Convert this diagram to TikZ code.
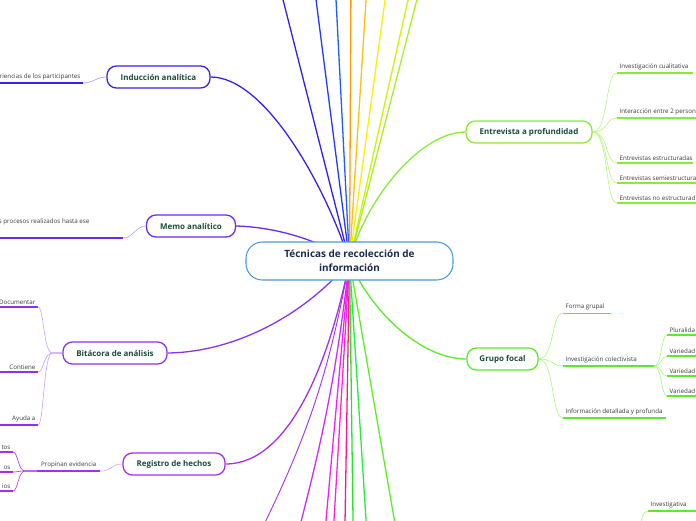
\documentclass[tikz,border=0pt]{standalone}
\usepackage{fontspec}
\setmainfont{Open Sans}
\usepackage{tikz}
\usetikzlibrary{positioning,backgrounds,calc}

\definecolor{hubline}{HTML}{4A9AD8}
\definecolor{hubtxt}{HTML}{1C2B4B}
\definecolor{nodetxt}{HTML}{1B4B3B}
\definecolor{leaftxt}{HTML}{3A3A3A}
\definecolor{indc}{HTML}{3A1FE8}
\definecolor{indl}{HTML}{A294FF}
\definecolor{memoc}{HTML}{6A2AF2}
\definecolor{memol}{HTML}{B69CFF}
\definecolor{bitc}{HTML}{8B33EC}
\definecolor{bitl}{HTML}{C79CFF}
\definecolor{regc}{HTML}{A52EF2}
\definecolor{regl}{HTML}{D49CFF}
\definecolor{entc}{HTML}{88EA3A}
\definecolor{entl}{HTML}{B6F57E}
\definecolor{gfc}{HTML}{5CEA2A}
\definecolor{gfl}{HTML}{A6F57C}
\definecolor{spA}{HTML}{2B1FF5}
\definecolor{spB}{HTML}{2238FF}
\definecolor{spC}{HTML}{1F5CFF}
\definecolor{spD}{HTML}{FF9A00}
\definecolor{spE}{HTML}{FFBE14}
\definecolor{spF}{HTML}{FFEE00}
\definecolor{spG}{HTML}{CCF500}
\definecolor{spH}{HTML}{A8F020}
\definecolor{sbA}{HTML}{A535F5}
\definecolor{sbB}{HTML}{CC2CF5}
\definecolor{sbC}{HTML}{EE22EE}
\definecolor{sbD}{HTML}{FF22D8}
\definecolor{sbE}{HTML}{FF1490}
\definecolor{sbF}{HTML}{22E622}
\definecolor{sbG}{HTML}{22EE3A}
\definecolor{sbH}{HTML}{5CF022}

\begin{document}
\begin{tikzpicture}[
  x=0.03cm, y=-0.03cm,
  hub/.style={draw=hubline, line width=0.9pt, fill=white, rounded corners=14pt, align=center,
    minimum width=6.21cm, minimum height=1.14cm, text=hubtxt,
    font=\fontsize{8.5}{12}\selectfont\bfseries},
  topic/.style={line width=1.1pt, fill=white, rounded corners=8pt, minimum height=0.66cm,
    inner xsep=5pt, text=nodetxt, font=\fontsize{6.8}{8}\selectfont\bfseries},
  leaf/.style={inner xsep=2pt, inner ysep=2.2pt, text=leaftxt,
    font=\fontsize{5.3}{6.3}\selectfont},
  spoke/.style={line width=1.1pt},
  twig/.style={line width=0.5pt},
  uline/.style={line width=1.4pt},
  thinline/.style={line width=0.8pt}
]
\useasboundingbox (0,0) rectangle (696,520);

\node[hub] (c) at (349.5,261) {Técnicas de recolección de\\información};

\node[topic, draw=indc, minimum width=3.09cm] (ind) at (158.5,77) {Inducción analítica};
\node[topic, draw=memoc, minimum width=2.67cm] (memo) at (191,226) {Memo analítico};
\node[topic, draw=bitc, minimum width=3.12cm] (bit) at (115,353) {Bitácora de análisis};
\node[topic, draw=regc, minimum width=3.06cm] (reg) at (174,464) {Registro de hechos};
\node[topic, draw=entc, minimum width=3.78cm] (ent) at (529,132) {Entrevista a profundidad};
\node[topic, draw=gfc, minimum width=2.13cm] (gf) at (502.5,359) {Grupo focal};

\node[leaf, anchor=south east] (indL) at (83,83) {riencias de los participantes};
\node[leaf, anchor=east] (memoL) at (92,222) {s procesos realizados hasta ese};
\coordinate (memoU) at (123,238);

\node[leaf, anchor=south east] (b1) at (38,307) {Documentar};
\node[leaf, anchor=south east] (b2) at (38,372) {Contiene};
\node[leaf, anchor=south east] (b3) at (38,425) {Ayuda a};

\node[leaf, anchor=south west, minimum width=1.89cm] (r1) at (37,471) {Propinan evidencia};
\node[leaf, anchor=south east] (s1) at (13,452) {tos};
\node[leaf, below=0.6cm of s1.south east, anchor=south east] (s2) {os};
\node[leaf, below=0.57cm of s2.south east, anchor=south east] (s3) {ios};

\node[leaf, anchor=south west] (e1) at (617,73) {Investigación cualitativa};
\node[leaf, anchor=south west] (e2) at (617,118) {Interacción entre 2 person};
\node[leaf, anchor=south west] (e3) at (617,163) {Entrevistas estructuradas};
\node[leaf, below=0.6cm of e3.south west, anchor=south west] (e4) {Entrevistas semiestructura};
\node[leaf, below=0.6cm of e4.south west, anchor=south west] (e5) {Entrevistas no estructurad};

\node[leaf, anchor=south west] (g1) at (563,313) {Forma grupal};
\node[leaf, anchor=south west] (g2) at (563,366) {Investigación colectivista};
\node[leaf, anchor=south west] (g3) at (563,418) {Información detallada y profunda};
\coordinate (g2end) at ($(g2.south west)+(91,0)$);
\node[leaf, anchor=south west] (p1) at (667,335) {Pluralida};
\node[leaf, below=0.63cm of p1.south west, anchor=south west] (v1) {Variedad};
\node[leaf, below=0.6cm of v1.south west, anchor=south west] (v2) {Variedad};
\node[leaf, below=0.6cm of v2.south west, anchor=south west] (v3) {Variedad};

\node[leaf, anchor=south west] (inv) at (648,511) {Investigativa};
\coordinate (invIn) at (641,532);

\coordinate (t1) at (278,-20);
\coordinate (t2) at (313.5,-20);
\coordinate (t3) at (335,-20);
\coordinate (t4) at (351,-20);
\coordinate (t5) at (367.3,-20);
\coordinate (t6) at (387.8,-20);
\coordinate (t7) at (412.5,-20);
\coordinate (t8) at (422,-20);
\coordinate (u1) at (256.4,540);
\coordinate (u2) at (296.2,540);
\coordinate (u3) at (324.2,540);
\coordinate (u4) at (332.8,540);
\coordinate (u5) at (344.7,540);
\coordinate (u6) at (353.3,540);
\coordinate (u7) at (367.3,540);
\coordinate (u8) at (397.8,540);

\begin{scope}[on background layer]
\clip (0,0) rectangle (696,520);
\draw[spoke, spA] (c.center) -- (t1);
\draw[spoke, spB] (c.center) -- (t2);
\draw[spoke, spC] (c.center) -- (t3);
\draw[spoke, spD] (c.center) -- (t4);
\draw[spoke, spE] (c.center) -- (t5);
\draw[spoke, spF] (c.center) -- (t6);
\draw[spoke, spG] (c.center) -- (t7);
\draw[spoke, spH] (c.center) -- (t8);
\draw[spoke, sbA, line width=0.8pt] (c.center) to[bend left=8] (u1);
\draw[spoke, sbB] (c.center) to[bend left=4] (u2);
\draw[spoke, sbC] (c.center) -- (u3);
\draw[spoke, sbD] (c.center) -- (u4);
\draw[spoke, sbE] (c.center) -- (u5);
\draw[spoke, sbF] (c.center) -- (u6);
\draw[spoke, sbG] (c.center) -- (u7);
\draw[spoke, sbH] (c.center) -- (u8);

\draw[spoke, indc] (ind.east) .. controls (265,77) and (325,185) .. (c.center);
\draw[spoke, memoc] (memo.east) .. controls (275,227) and (320,240) .. (c.center);
\draw[spoke, bitc] (bit.east) .. controls (240,352) and (310,310) .. (c.center);
\draw[spoke, regc] (reg.east) .. controls (290,464) and (330,360) .. (c.center);
\draw[spoke, entc] (ent.west) .. controls (420,132) and (365,200) .. (c.center);
\draw[spoke, gfc] (gf.west) .. controls (420,359) and (370,310) .. (c.center);

\draw[uline, indc] (indL.south east) -- ++(-90,0);
\draw[twig, indl] (indL.south east) .. controls +(10,0) and +(-10,0) .. (ind.west);
\draw[uline, memoc] (memoU) -- ++(-130,0);
\draw[twig, memol] (memoU) .. controls +(10,0) and +(-10,0) .. (memo.west);

\draw[uline, bitc] (b1.south east) -- ++(-40,0);
\draw[uline, bitc] (b2.south east) -- ++(-40,0);
\draw[uline, bitc] (b3.south east) -- ++(-40,0);
\draw[twig, bitl] (bit.west) -- ++(-10,0) .. controls +(-9,0) and +(6,0) .. (b1.south east);
\draw[twig, bitl] (bit.west) -- ++(-10,0) .. controls +(-9,0) and +(6,0) .. (b2.south east);
\draw[twig, bitl] (bit.west) -- ++(-10,0) .. controls +(-9,0) and +(6,0) .. (b3.south east);

\draw[uline, regc] (r1.south west) -- (r1.south east);
\draw[twig, regl] (r1.south east) .. controls +(12,0) and +(-12,0) .. (reg.west);
\draw[uline, regc] (s1.south east) -- ++(-20,0);
\draw[uline, regc] (s2.south east) -- ++(-20,0);
\draw[uline, regc] (s3.south east) -- ++(-20,0);
\draw[twig, regc] (r1.south west) -- ++(-12,0) .. controls +(-7,0) and +(5,0) .. (s1.south east);
\draw[twig, regc] (r1.south west) -- ++(-12,0) .. controls +(-7,0) and +(5,0) .. (s2.south east);
\draw[twig, regc] (r1.south west) -- ++(-12,0) .. controls +(-7,0) and +(5,0) .. (s3.south east);

\draw[uline, entc] (e1.south west) -- ++(76,0);
\draw[uline, entc] (e2.south west) -- ++(90,0);
\draw[uline, entc] (e3.south west) -- ++(76,0);
\draw[uline, entc] (e4.south west) -- ++(90,0);
\draw[uline, entc] (e5.south west) -- ++(90,0);
\draw[twig, entl] (ent.east) .. controls +(16,0) and +(-12,0) .. (e1.south west);
\draw[twig, entl] (ent.east) .. controls +(16,0) and +(-12,0) .. (e2.south west);
\draw[twig, entl] (ent.east) .. controls +(16,0) and +(-12,0) .. (e3.south west);
\draw[twig, entl] (ent.east) .. controls +(16,0) and +(-12,0) .. (e4.south west);
\draw[twig, entl] (ent.east) .. controls +(16,0) and +(-12,0) .. (e5.south west);

\draw[thinline, gfc] (g1.south west) -- ++(48,0);
\draw[uline, gfc] (g2.south west) -- (g2end);
\draw[uline, gfc] (g3.south west) -- ++(103,0);
\draw[twig, gfl] (gf.east) .. controls +(16,0) and +(-12,0) .. (g1.south west);
\draw[twig, gfl] (gf.east) .. controls +(16,0) and +(-12,0) .. (g2.south west);
\draw[twig, gfl] (gf.east) .. controls +(16,0) and +(-12,0) .. (g3.south west);
\draw[uline, gfc] (p1.south west) -- ++(40,0);
\draw[uline, gfc] (v1.south west) -- ++(40,0);
\draw[uline, gfc] (v2.south west) -- ++(40,0);
\draw[uline, gfc] (v3.south west) -- ++(40,0);
\draw[twig, gfl] (g2end) .. controls +(8,0) and +(-6,0) .. (p1.south west);
\draw[twig, gfl] (g2end) .. controls +(8,0) and +(-6,0) .. (v1.south west);
\draw[twig, gfl] (g2end) .. controls +(8,0) and +(-6,0) .. (v2.south west);
\draw[twig, gfl] (g2end) .. controls +(8,0) and +(-6,0) .. (v3.south west);

\draw[uline, gfc] (inv.south west) -- ++(50,0);
\draw[twig, gfl] (invIn) .. controls +(0,-12) and +(-6,0) .. (inv.south west);
\end{scope}
\end{tikzpicture}
\end{document}
